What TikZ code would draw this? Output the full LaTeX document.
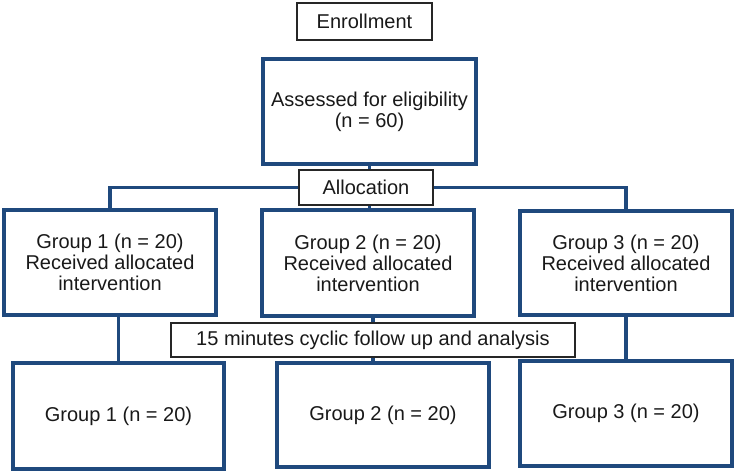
\documentclass[tikz,border=0pt]{standalone}
\usepackage{fontspec}
\setmainfont{Liberation Sans}
\usepackage{xcolor}
\definecolor{flowblue}{RGB}{31,73,125}

\begin{document}
\begin{tikzpicture}[x=1pt,y=1pt,
  font=\fontsize{20}{21}\selectfont, text=black!90,
  bluebox/.style={draw=flowblue,line width=3.8pt,align=center,inner sep=0pt},
  thinbox/.style={draw=black!85,line width=1.3pt,fill=white,inner sep=0pt},
  link/.style={draw=flowblue,line width=3.6pt}]
  \useasboundingbox (0,0) rectangle (736,474);
  % top of the chart
  \node[thinbox,minimum width=135pt,minimum height=37pt] (enroll) at (364.5,452.5) {Enrollment};
  \node[bluebox,minimum width=213pt,minimum height=105pt] (assess) at (369.5,362.5)
    {Assessed for eligibility\\(n = 60)};
  \node[thinbox,minimum width=134pt,minimum height=35pt] (alloc) at (366,286.5) {Allocation};
  % groups after allocation
  \node[bluebox,minimum width=212pt,minimum height=105pt] (g1a) at (110,211.5)
    {Group 1 (n = 20)\\Received allocated\\intervention};
  \node[bluebox,minimum width=212pt,minimum height=106pt] (g2a) at (368,211)
    {Group 2 (n = 20)\\Received allocated\\intervention};
  \node[bluebox,minimum width=212pt,minimum height=104pt] (g3a) at (626,211)
    {Group 3 (n = 20)\\Received allocated\\intervention};
  \node[thinbox,minimum width=404pt,minimum height=34pt] (follow) at (373,134)
    {15 minutes cyclic follow up and analysis};
  % groups after follow up
  \node[bluebox,minimum width=211pt,minimum height=106pt] (g1b) at (118.5,58) {Group 1 (n = 20)};
  \node[bluebox,minimum width=212pt,minimum height=104pt] (g2b) at (383,59) {Group 2 (n = 20)};
  \node[bluebox,minimum width=212pt,minimum height=105pt] (g3b) at (626,60.5) {Group 3 (n = 20)};
  % connectors
  \draw[link] (assess.south) -- (assess.south |- alloc.north);
  \draw[link] (alloc.south -| assess.south) -- (g2a.north -| assess.south);
  \draw[link] (alloc.west) -| (g1a.north);
  \draw[link] (alloc.east) -| (g3a.north);
  \draw[link] (g1b.north |- g1a.south) -- (g1b.north);
  \draw[link] (follow.north) -- (follow.north |- g2a.south);
  \draw[link] (follow.south) -- (follow.south |- g2b.north);
  \draw[link] (g3a.south) -- (g3b.north);
\end{tikzpicture}
\end{document}
